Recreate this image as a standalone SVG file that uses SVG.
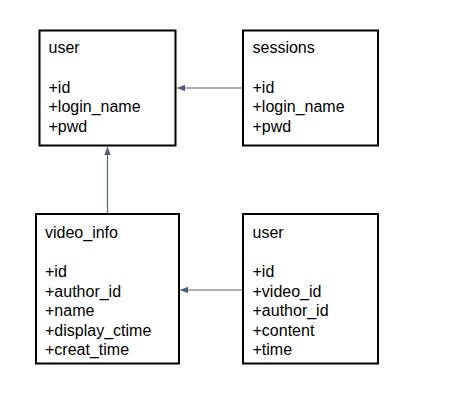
<svg xmlns="http://www.w3.org/2000/svg" width="464" height="401" viewBox="0 0 464 401">
<style>
.box{fill:#ffffff;stroke:#000000;stroke-width:2}
.t{font-family:"Liberation Sans",Arial,sans-serif;font-size:16px;fill:#000000}
.c{stroke:#56657a;stroke-width:1.2;fill:none}
</style>
<defs>
<marker id="ah" viewBox="0 0 10 8" refX="10" refY="4" markerWidth="8" markerHeight="6.4" markerUnits="userSpaceOnUse" orient="auto">
<path d="M0,0 L10,4 L0,8 Z" fill="#4f5d72"/>
</marker>
</defs>
<rect width="464" height="401" fill="#ffffff"/>
<g id="connectors">
<line class="c" x1="243" y1="88" x2="177" y2="88" marker-end="url(#ah)"/>
<line class="c" x1="107.5" y1="214" x2="107.5" y2="147" marker-end="url(#ah)"/>
<line class="c" x1="243" y1="290" x2="180" y2="290" marker-end="url(#ah)"/>
</g>
<g id="user">
<rect class="box" x="39.5" y="30.5" width="136" height="115"/>
<text class="t" x="48.5" y="53">user</text>
<text class="t" x="48.5" y="92.5">+id</text>
<text class="t" x="48.5" y="112">+login_name</text>
<text class="t" x="48.5" y="131.5">+pwd</text>
</g>
<g id="sessions">
<rect class="box" x="243" y="30.5" width="135" height="115"/>
<text class="t" x="252.5" y="53">sessions</text>
<text class="t" x="252.5" y="92.5">+id</text>
<text class="t" x="252.5" y="112">+login_name</text>
<text class="t" x="252.5" y="131.5">+pwd</text>
</g>
<g id="video_info">
<rect class="box" x="36" y="214" width="143" height="149.5"/>
<text class="t" x="45" y="238">video_info</text>
<text class="t" x="45" y="277">+id</text>
<text class="t" x="45" y="296.5">+author_id</text>
<text class="t" x="45" y="316">+name</text>
<text class="t" x="45" y="335.5">+display_ctime</text>
<text class="t" x="45" y="355">+creat_time</text>
</g>
<g id="user2">
<rect class="box" x="243" y="214" width="135" height="149.5"/>
<text class="t" x="252.5" y="238">user</text>
<text class="t" x="252.5" y="277">+id</text>
<text class="t" x="252.5" y="296.5">+video_id</text>
<text class="t" x="252.5" y="316">+author_id</text>
<text class="t" x="252.5" y="335.5">+content</text>
<text class="t" x="252.5" y="355">+time</text>
</g>
</svg>
